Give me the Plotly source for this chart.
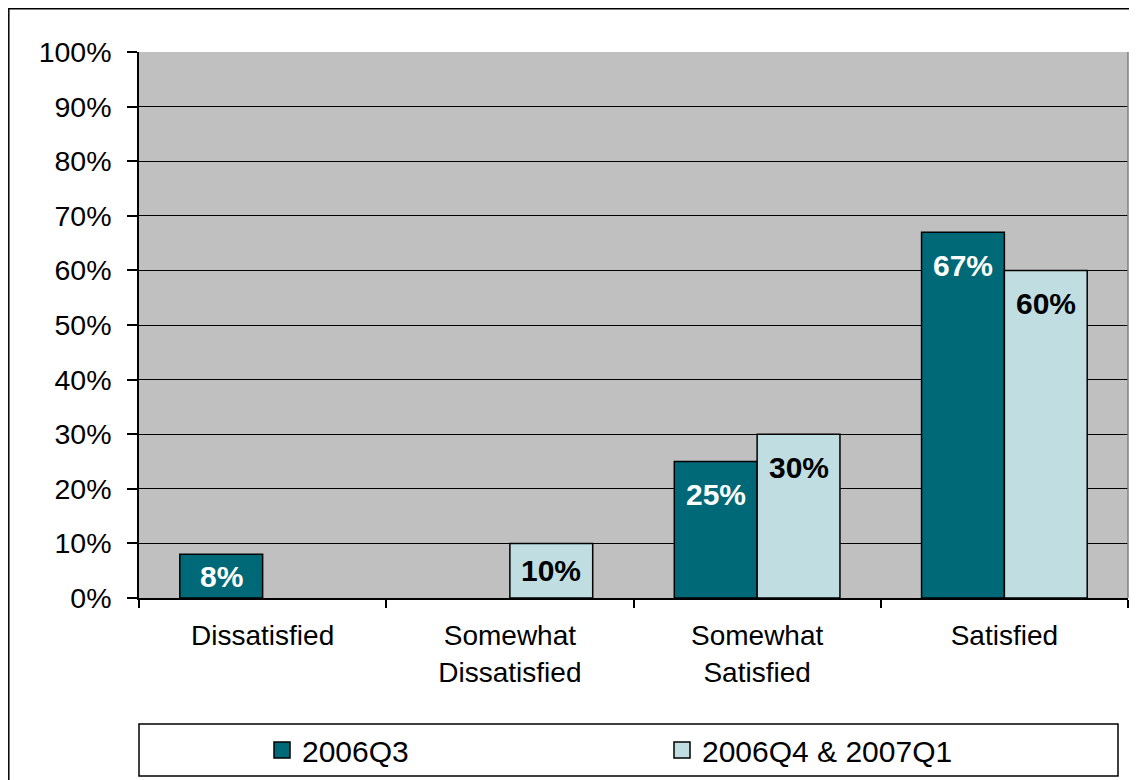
import plotly.graph_objects as go

categories = ["Dissatisfied", "Somewhat<br>Dissatisfied", "Somewhat<br>Satisfied", "Satisfied"]
series_names = ["2006Q3", "2006Q4 & 2007Q1"]
values_2006q3 = [8, None, 25, 67]
values_2006q4_2007q1 = [None, 10, 30, 60]
y_tick_vals = [0, 10, 20, 30, 40, 50, 60, 70, 80, 90, 100]
y_tick_text = [f"{v}%" for v in y_tick_vals]

# page is offset by the 8px body margin
OFF = 8
W, H = 1137 - OFF, 780 - OFF
ML, MR, MT, MB = 139 - OFF, 9, 52 - OFF, 182
PW, PH = W - ML - MR, H - MT - MB
BARGAP = 0.33
FONT = "Liberation Sans, Arial, sans-serif"

colors = ["#006978", "#C0DEE1"]
text_colors = ["white", "black"]
series_values = [values_2006q3, values_2006q4_2007q1]


def px_x(page_x):
    return (page_x - OFF - ML) / PW


def px_y(page_y):
    return (H - MB - (page_y - OFF)) / PH


fig = go.Figure()
for name, vals, col in zip(series_names, series_values, colors):
    fig.add_trace(go.Bar(
        x=categories, y=vals, name=name, marker_color=col,
        marker_line_color="black", marker_line_width=1.5,
        showlegend=False, hoverinfo="skip",
    ))
    fig.add_trace(go.Scatter(
        x=[None], y=[None], mode="markers", name=name,
        marker=dict(symbol="square", size=20, color=col,
                    line=dict(color="black", width=1.5)),
        showlegend=True,
    ))

# data labels
cat_px = PW / len(categories)
bar_px = cat_px * (1 - BARGAP) / 2
px_per_unit = PH / 100.0
annotations = []
for i, (vals, tc) in enumerate(zip(series_values, text_colors)):
    xshift = (i - 0.5) * bar_px
    for cat, v in zip(categories, vals):
        if v is None:
            continue
        h = v * px_per_unit
        off = min(33, h / 2)
        annotations.append(dict(
            x=cat, y=v, xref="x", yref="y", text=f"<b>{v}%</b>",
            showarrow=False, xshift=xshift, yshift=-off,
            xanchor="center", yanchor="middle",
            font=dict(family=FONT, size=30, color=tc),
        ))

shapes = [
    # outer chart border
    dict(type="rect", xref="paper", yref="paper",
         x0=px_x(OFF + 0.8), x1=1.2, y0=-0.6, y1=px_y(OFF + 0.8),
         line=dict(color="black", width=1.5), fillcolor="rgba(0,0,0,0)", layer="below"),
    # right plot border
    dict(type="line", xref="paper", yref="paper", x0=1, x1=1, y0=0, y1=1,
         line=dict(color="#808080", width=1.5)),
    # legend box
    dict(type="rect", xref="paper", yref="paper",
         x0=0, x1=px_x(1118), y0=px_y(776), y1=px_y(724),
         line=dict(color="black", width=1.5), fillcolor="white", layer="below"),
]

fig.update_layout(
    width=W, height=H,
    margin=dict(l=ML, r=MR, t=MT, b=MB, autoexpand=False),
    paper_bgcolor="white", plot_bgcolor="#C0C0C0",
    barmode="group", bargap=BARGAP, bargroupgap=0,
    font=dict(family=FONT, size=28, color="black"),
    annotations=annotations, shapes=shapes,
    legend=dict(orientation="h", x=px_x(262), xanchor="left",
                y=px_y(750), yanchor="middle",
                entrywidth=355, entrywidthmode="pixels",
                bgcolor="rgba(0,0,0,0)", borderwidth=0,
                font=dict(family=FONT, size=30, color="black")),
    xaxis=dict(type="category", showline=True, linecolor="black", linewidth=1.5,
               ticks="outside", tickson="boundaries", ticklen=8, tickcolor="black",
               tickwidth=1.5, showgrid=False, ticklabelstandoff=12,
               tickfont=dict(family=FONT, size=28)),
    yaxis=dict(range=[0, 100], tickmode="array", tickvals=y_tick_vals, ticktext=y_tick_text,
               showline=True, linecolor="black", linewidth=1.5,
               ticks="outside", ticklen=10, tickcolor="black", tickwidth=1.5,
               showgrid=True, gridcolor="black", gridwidth=1.2,
               zeroline=False, ticklabelstandoff=10,
               tickfont=dict(family=FONT, size=28.5)),
)

fig.write_html("out.html")
